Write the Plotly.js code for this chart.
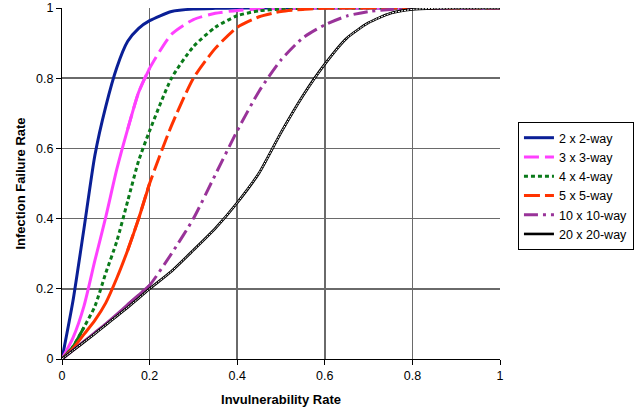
<!DOCTYPE html>
<html>
<head>
<meta charset="utf-8">
<script src="https://cdn.plot.ly/plotly-3.0.1.min.js"></script>
<style>html,body{margin:0;padding:0;background:#fff;}#chart{width:644px;height:413px;}</style>
</head>
<body>
<div id="chart"></div>
<script>
// Invulnerability rate (x)
const invulnerability = [0, 0.025, 0.05, 0.075, 0.1, 0.125, 0.15, 0.175, 0.2, 0.25, 0.3, 0.35, 0.4, 0.45, 0.5, 0.55, 0.6, 0.65, 0.7, 0.75, 0.8, 0.85, 0.9, 0.95, 1];
// Infection failure rate per configuration
const way2x2   = [0, 0.165, 0.37, 0.58, 0.72, 0.83, 0.905, 0.942, 0.964, 0.99, 0.997, 0.999, 1, 1, 1, 1, 1, 1, 1, 1, 1, 1, 1, 1, 1];
const way3x3   = [0, 0.06, 0.15, 0.28, 0.405, 0.54, 0.655, 0.76, 0.828, 0.925, 0.967, 0.985, 0.993, 0.997, 0.999, 1, 1, 1, 1, 1, 1, 1, 1, 1, 1];
const way4x4   = [0, 0.035, 0.09, 0.15, 0.245, 0.335, 0.45, 0.565, 0.65, 0.8, 0.89, 0.945, 0.978, 0.992, 0.997, 0.999, 1, 1, 1, 1, 1, 1, 1, 1, 1];
const way5x5   = [0, 0.03, 0.07, 0.11, 0.16, 0.23, 0.31, 0.4, 0.5, 0.665, 0.8, 0.885, 0.945, 0.975, 0.99, 0.996, 0.999, 1, 1, 1, 1, 1, 1, 1, 1];
const way10x10 = [0, 0.025, 0.05, 0.075, 0.1, 0.127, 0.155, 0.182, 0.21, 0.3, 0.4, 0.525, 0.65, 0.763, 0.852, 0.915, 0.952, 0.977, 0.99, 0.996, 0.999, 1, 1, 1, 1];
const way20x20 = [0, 0.024, 0.048, 0.072, 0.097, 0.122, 0.147, 0.173, 0.2, 0.25, 0.31, 0.372, 0.445, 0.53, 0.645, 0.75, 0.84, 0.914, 0.958, 0.985, 0.996, 0.999, 1, 1, 1];
const seriesNames = ["2 x 2-way", "3 x 3-way", "4 x 4-way", "5 x 5-way", "10 x 10-way", "20 x 20-way"];

const FONT = "Arial, 'Liberation Sans', sans-serif";
const styles = [
  {color: '#0a1f96', dash: 'solid', width: 3, solidTo: null},
  {color: '#ff40ff', dash: '15px,6px', width: 3, solidTo: 0.2},
  {color: '#0a7a1a', dash: '4px,3px', width: 3, solidTo: 0.05},
  {color: '#ff3300', dash: '16px,5px', width: 3, solidTo: 0.2},
  {color: '#993399', dash: '14px,5px,3px,5px', width: 3, solidTo: 0.2},
  {color: '#000000', dash: 'solid', width: 2.6, solidTo: null, hatched: true}
];
const values = [way2x2, way3x3, way4x4, way5x5, way10x10, way20x20];
const SHAPE = 'spline', SMOOTH = 0.6;

const traces = [];
values.forEach((ys, i) => {
  const st = styles[i];
  if (st.solidTo !== null) {
    const xs1 = [], ys1 = [], xs2 = [], ys2 = [];
    invulnerability.forEach((x, k) => {
      if (x <= st.solidTo + 1e-9) { xs1.push(x); ys1.push(ys[k]); }
      if (x >= st.solidTo - 0.05 - 1e-9) { xs2.push(x); ys2.push(ys[k]); }
    });
    traces.push({x: xs1, y: ys1, type: 'scatter', mode: 'lines', showlegend: false, hoverinfo: 'skip',
      line: {color: st.color, width: st.width, dash: 'solid', shape: SHAPE, smoothing: SMOOTH}});
    traces.push({x: xs2, y: ys2, type: 'scatter', mode: 'lines', name: seriesNames[i],
      line: {color: st.color, width: st.width, dash: st.dash, shape: SHAPE, smoothing: SMOOTH}});
  } else {
    traces.push({x: invulnerability, y: ys, type: 'scatter', mode: 'lines', name: seriesNames[i],
      line: {color: st.color, width: st.width, dash: st.dash, shape: SHAPE, smoothing: SMOOTH}});
    if (st.hatched) {
      traces.push({x: invulnerability, y: ys, type: 'scatter', mode: 'lines', showlegend: false, hoverinfo: 'skip',
        line: {color: '#ffffff', width: 1, dash: '2px,1px', shape: SHAPE, smoothing: SMOOTH}});
    }
  }
});

const layout = {
  width: 644, height: 413,
  margin: {l: 62, r: 144, t: 8, b: 54},
  paper_bgcolor: '#fff', plot_bgcolor: '#fff',
  font: {family: FONT, size: 12.5, color: '#000'},
  showlegend: true,
  legend: {x: 1.041, y: 0.675, xanchor: 'left', yanchor: 'top', bgcolor: '#fff',
    bordercolor: '#000', borderwidth: 1, font: {family: FONT, size: 12.5, color: '#000'}},
  xaxis: {
    range: [0, 1], dtick: 0.2, tick0: 0, showgrid: true, gridcolor: '#6a6a6a', gridwidth: 1.5,
    zeroline: false, showline: true, linecolor: '#000', linewidth: 1,
    ticks: 'outside', ticklen: 5, tickcolor: '#000',
    tickfont: {family: FONT, size: 12.5, color: '#000'},
    title: {text: 'Invulnerability Rate', font: {family: FONT, size: 13, color: '#000', weight: 'bold'}, standoff: 12}
  },
  yaxis: {
    range: [0, 1], dtick: 0.2, tick0: 0, showgrid: true, gridcolor: '#6a6a6a', gridwidth: 1.5,
    zeroline: false, showline: true, linecolor: '#000', linewidth: 1,
    ticks: 'outside', ticklen: 5, tickcolor: '#000',
    tickfont: {family: FONT, size: 12.5, color: '#000'},
    title: {text: 'Infection Failure Rate', font: {family: FONT, size: 13, color: '#000', weight: 'bold'}, standoff: 7}
  }
};

Plotly.newPlot('chart', traces, layout, {displayModeBar: false, staticPlot: true});
</script>
</body>
</html>
